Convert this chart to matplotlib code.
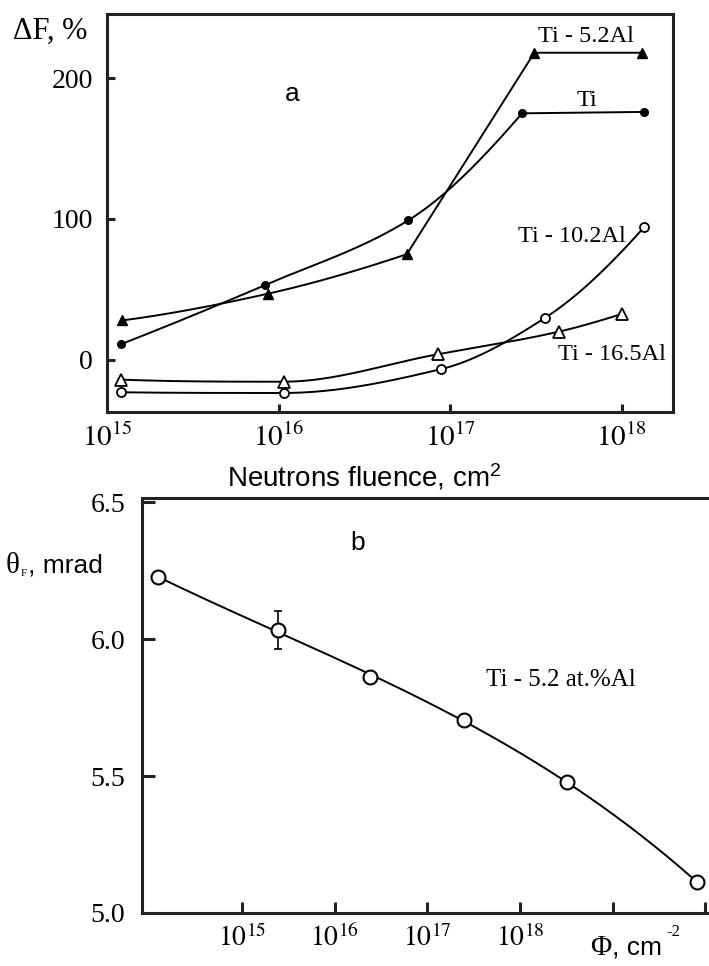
import numpy as np
import matplotlib
matplotlib.use("Agg")
import matplotlib.pyplot as plt
from matplotlib.ticker import FixedLocator, NullLocator

plt.rcParams['mathtext.fontset'] = 'stix'

# ---------------- data: panel a ----------------
ti_x = [1.2e15, 8.3e15, 5.7e16, 2.63e17, 1.35e18]
ti_y = [11, 53, 99, 175, 176]

ti52_x = [1.23e15, 8.7e15, 5.6e16, 3.1e17, 1.32e18]
ti52_y = [28, 47, 75, 218, 218]

ti102_x = [1.2e15, 1.07e16, 8.9e16, 3.6e17, 1.35e18]
ti102_y = [-23, -23.5, -6.5, 30, 94]

ti165_x = [1.2e15, 1.07e16, 8.5e16, 4.3e17, 1.0e18]
ti165_y = [-14, -15.5, 4, 20, 32.5]

a_yticks = [0, 100, 200]
a_xticks = [1e15, 1e16, 1e17, 1e18]
a_xticklabels = [r'$10^{15}$', r'$10^{16}$', r'$10^{17}$', r'$10^{18}$']

# ---------------- data: panel b ----------------
b_x = [1.23e14, 2.45e15, 2.4e16, 2.5e17, 3.2e18, 8.1e19]
b_y = [6.226, 6.033, 5.861, 5.704, 5.478, 5.113]
b_err = [0, 0.07, 0, 0, 0, 0]
b_yticks = [5.0, 5.5, 6.0, 6.5]
b_yticklabels = ['5.0', '5.5', '6.0', '6.5']
b_xticks = [1e15, 1e16, 1e17, 1e18, 1e19, 1e20]
b_xticklabels = [r'$10^{15}$', r'$10^{16}$', r'$10^{17}$', r'$10^{18}$', '', '']


def pchip(x, y, xs):
    x = np.asarray(x, float); y = np.asarray(y, float)
    h = np.diff(x); d = np.diff(y) / h
    n = len(x)
    m = np.zeros(n)
    for k in range(1, n - 1):
        if d[k - 1] * d[k] <= 0:
            m[k] = 0
        else:
            w1 = 2 * h[k] + h[k - 1]; w2 = h[k] + 2 * h[k - 1]
            m[k] = (w1 + w2) / (w1 / d[k - 1] + w2 / d[k])
    def end(h0, h1, d0, d1):
        mm = ((2 * h0 + h1) * d0 - h0 * d1) / (h0 + h1)
        if np.sign(mm) != np.sign(d0):
            mm = 0
        elif np.sign(d0) != np.sign(d1) and abs(mm) > abs(3 * d0):
            mm = 3 * d0
        return mm
    if n > 2:
        m[0] = end(h[0], h[1], d[0], d[1])
        m[-1] = end(h[-1], h[-2], d[-1], d[-2])
    else:
        m[:] = d[0]
    out = np.empty_like(xs)
    for i, xv in enumerate(xs):
        k = min(max(np.searchsorted(x, xv) - 1, 0), n - 2)
        t = (xv - x[k]) / h[k]
        h00 = 2 * t**3 - 3 * t**2 + 1; h10 = t**3 - 2 * t**2 + t
        h01 = -2 * t**3 + 3 * t**2; h11 = t**3 - t**2
        out[i] = h00 * y[k] + h10 * h[k] * m[k] + h01 * y[k + 1] + h11 * h[k] * m[k + 1]
    return out


def curve(xv, yv, nsmooth):
    lx = np.log10(xv)
    xs = np.linspace(lx[0], lx[nsmooth - 1], 200)
    ys = pchip(lx[:nsmooth], yv[:nsmooth], xs)
    xs = np.concatenate([xs, lx[nsmooth:]])
    ys = np.concatenate([ys, yv[nsmooth:]])
    return 10**xs, ys


W, H = 709, 966
fig = plt.figure(figsize=(W / 100, H / 100), dpi=100)
fig.patch.set_facecolor('white')


def fx(px):
    return px / W


def fy(py):
    return 1 - py / H


SERIF = 'Liberation Serif'
SANS = 'Liberation Sans'

# ---------------- panel a ----------------
ax = fig.add_axes([fx(107), fy(412), fx(673) - fx(107), fy(14) - fy(412)])
ax.set_xscale('log')
ax.set_xlim(10**15.0, 10**18.30)
ax.set_ylim(-37, 245.5)
for s in ax.spines.values():
    s.set_linewidth(2.2)
    s.set_color('#222222')

lw = 1.4
c = 'black'
xs, ys = curve(ti_x, ti_y, 4)
ax.plot(xs, ys, color=c, lw=lw)
ax.plot(ti_x, ti_y, 'o', color=c, ms=5.5)

xs, ys = curve(ti52_x, ti52_y, 3)
ax.plot(xs, ys, color=c, lw=lw)
ax.plot(ti52_x, ti52_y, '^', color=c, ms=7.5)

xs, ys = curve(ti102_x, ti102_y, 5)
ax.plot(xs, ys, color=c, lw=lw)
ax.plot(ti102_x, ti102_y, 'o', mfc='white', mec=c, mew=1.3, ms=6.5)

xs, ys = curve(ti165_x, ti165_y, 5)
ax.plot(xs, ys, color=c, lw=lw)
ax.plot(ti165_x, ti165_y, '^', mfc='white', mec=c, mew=1.3, ms=9)

ax.yaxis.set_major_locator(FixedLocator(a_yticks))
ax.set_yticklabels([str(v) for v in a_yticks], family=SERIF, fontsize=20)
ax.xaxis.set_major_locator(FixedLocator(a_xticks))
ax.xaxis.set_minor_locator(NullLocator())
ax.set_xticklabels(a_xticklabels, fontsize=21)
ax.tick_params(axis='both', direction='in', length=6, width=2.2, color='#222222', pad=10)
ax.tick_params(axis='x', pad=8)

ax.text(0.328, 0.80, 'a', transform=ax.transAxes, family=SANS, fontsize=19, ha='center', va='center')
fig.text(fx(586), fy(37), 'Ti - 5.2Al', family=SERIF, fontsize=17.5, ha='center', va='center')
fig.text(fx(587), fy(100), 'Ti', family=SERIF, fontsize=17.5, ha='center', va='center')
fig.text(fx(572), fy(236), 'Ti - 10.2Al', family=SERIF, fontsize=17.5, ha='center', va='center')
fig.text(fx(612), fy(355), 'Ti - 16.5Al', family=SERIF, fontsize=17.5, ha='center', va='center')
fig.text(fx(13), fy(31), 'ΔF, %', family=SERIF, fontsize=22, ha='left', va='center')
fig.text(fx(364), fy(477), r'Neutrons fluence, cm$\mathregular{^2}$', family=SANS, fontsize=20,
         ha='center', va='center')

# ---------------- panel b ----------------
bx = fig.add_axes([fx(142), fy(913), fx(709) - fx(142), fy(498) - fy(913)])
bx.set_xscale('log')
bx.set_xlim(10**13.92, 10**20.04)
bx.set_ylim(5.0, 6.515)
for name, s in bx.spines.items():
    s.set_linewidth(2.2)
    s.set_color('#222222')
bx.spines['right'].set_visible(False)

# smooth guide curve: cubic least-squares fit in log(fluence)
lb = np.log10(b_x)
coef = np.polyfit(lb, b_y, 3)
xsb = np.linspace(lb[0], lb[-1], 300)
ysb = np.polyval(coef, xsb)
bx.plot(10**xsb, ysb, color=c, lw=1.4)
bx.errorbar(b_x, b_y, yerr=b_err, fmt='none', ecolor=c, elinewidth=1.2, capsize=3, capthick=1.2)
bx.plot(b_x, b_y, 'o', mfc='white', mec=c, mew=1.5, ms=10, clip_on=False, zorder=5)

bx.yaxis.set_major_locator(FixedLocator(b_yticks))
bx.set_yticklabels(b_yticklabels, family=SERIF, fontsize=20)
bx.xaxis.set_major_locator(FixedLocator(b_xticks))
bx.xaxis.set_minor_locator(NullLocator())
bx.set_xticklabels(b_xticklabels, fontsize=20)
bx.tick_params(axis='y', direction='in', length=9, width=2.2, color='#222222', pad=12)
bx.tick_params(axis='x', direction='in', length=8, width=2.2, color='#222222', pad=8)

fig.text(fx(358), fy(543), 'b', family=SANS, fontsize=19, ha='center', va='center')
fig.text(fx(561), fy(680), 'Ti - 5.2 at.%Al', family=SERIF, fontsize=18, ha='center', va='center')

# y label of panel b
fig.text(fx(6), fy(566), 'θ', family=SERIF, fontsize=21, ha='left', va='center')
fig.text(fx(21), fy(573), 'F', family=SERIF, fontsize=8, ha='left', va='center')
fig.text(fx(28), fy(565), ', mrad', family=SANS, fontsize=19, ha='left', va='center')

# x label of panel b
fig.text(fx(590), fy(948), 'Φ', family=SERIF, fontsize=21, ha='left', va='center')
fig.text(fx(612), fy(948), ', cm', family=SANS, fontsize=19, ha='left', va='center')
fig.text(fx(666), fy(932), '-2', family=SERIF, fontsize=12, ha='left', va='center')

fig.savefig('out.png', dpi=100, facecolor='white')
